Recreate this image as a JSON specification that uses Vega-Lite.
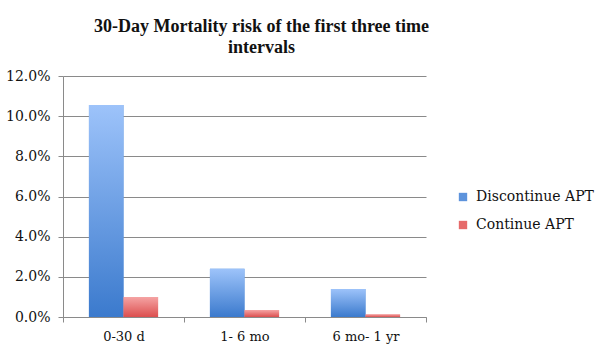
{
  "$schema": "https://vega.github.io/schema/vega-lite/v6.json",
  "autosize": "none",
  "width": 363,
  "height": 241,
  "padding": {"left": 63, "top": 76, "right": 174, "bottom": 43},
  "background": "white",
  "title": {
    "text": ["30-Day Mortality risk of the first three time", "intervals"],
    "font": "Liberation Serif",
    "fontWeight": "bold",
    "fontSize": 18,
    "color": "#111",
    "anchor": "middle",
    "frame": "group",
    "dx": 17,
    "offset": 12,
    "lineHeight": 21
  },
  "data": {
    "values": [
      {"interval": "0-30 d", "series": "Discontinue APT", "risk": 0.1055},
      {"interval": "0-30 d", "series": "Continue APT", "risk": 0.010},
      {"interval": "1- 6 mo", "series": "Discontinue APT", "risk": 0.024},
      {"interval": "1- 6 mo", "series": "Continue APT", "risk": 0.0035},
      {"interval": "6 mo- 1 yr", "series": "Discontinue APT", "risk": 0.014},
      {"interval": "6 mo- 1 yr", "series": "Continue APT", "risk": 0.0013}
    ]
  },
  "encoding": {
    "x": {
      "field": "interval",
      "type": "nominal",
      "sort": null,
      "title": null,
      "scale": {"paddingInner": 0, "paddingOuter": 0},
      "axis": {
        "labelAngle": 0,
        "tickBand": "extent",
        "domainColor": "#8a8a8a",
        "tickColor": "#8a8a8a",
        "tickSize": 5,
        "labelFont": "DejaVu Serif",
        "labelFontSize": 13,
        "labelColor": "#111",
        "labelPadding": 8,
        "grid": false
      }
    },
    "xOffset": {
      "field": "series",
      "type": "nominal",
      "sort": ["Discontinue APT", "Continue APT"],
      "scale": {"paddingInner": 0, "paddingOuter": 0.75}
    },
    "y": {
      "field": "risk",
      "type": "quantitative",
      "title": null,
      "scale": {"domain": [0, 0.12], "nice": false},
      "axis": {
        "values": [0, 0.02, 0.04, 0.06, 0.08, 0.10, 0.12],
        "format": ".1%",
        "domainColor": "#8a8a8a",
        "tickColor": "#8a8a8a",
        "gridColor": "#8a8a8a",
        "tickSize": 5,
        "labelFont": "DejaVu Serif",
        "labelFontSize": 14,
        "labelColor": "#111",
        "labelPadding": 8
      }
    }
  },
  "layer": [
    {
      "mark": {"type": "bar"},
      "encoding": {
        "color": {
          "field": "series",
          "type": "nominal",
          "sort": ["Discontinue APT", "Continue APT"],
          "scale": {"domain": ["Discontinue APT", "Continue APT"], "range": ["#5d93dc", "#e66a6a"]},
          "legend": {
            "title": null,
            "orient": "none",
            "legendX": 393,
            "legendY": 114,
            "symbolType": "square",
            "symbolSize": 70,
            "labelFont": "DejaVu Serif",
            "labelFontSize": 14,
            "labelColor": "#111",
            "rowPadding": 14,
            "labelOffset": 6
          }
        }
      }
    },
    {
      "mark": {"type": "bar"},
      "encoding": {
        "fill": {
          "condition": {
            "test": "datum.series === 'Discontinue APT'",
            "value": {"gradient": "linear", "x1": 0, "y1": 0, "x2": 0, "y2": 1,
              "stops": [{"offset": 0, "color": "#9dc3fa"}, {"offset": 1, "color": "#3b7acd"}]}
          },
          "value": {"gradient": "linear", "x1": 0, "y1": 0, "x2": 0, "y2": 1,
            "stops": [{"offset": 0, "color": "#f5a4a4"}, {"offset": 1, "color": "#dc4f4f"}]}
        }
      }
    }
  ],
  "config": {"view": {"stroke": null}}
}
